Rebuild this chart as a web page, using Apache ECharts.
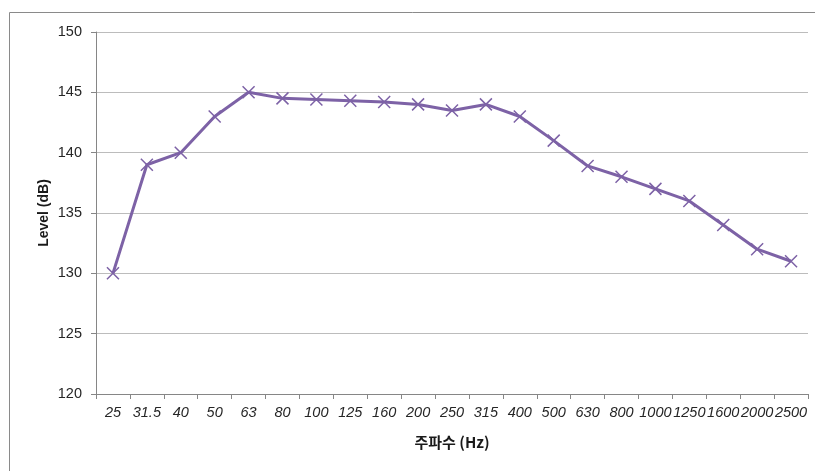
<!DOCTYPE html>
<html>
<head>
<meta charset="utf-8">
<script src="https://cdn.jsdelivr.net/npm/echarts@6/dist/echarts.min.js"></script>
<style>
html,body{margin:0;padding:0;background:#fff;}
#chart{width:815px;height:471px;}
</style>
</head>
<body>
<div id="chart"></div>
<script>
var categories = ['25','31.5','40','50','63','80','100','125','160','200','250','315','400','500','630','800','1000','1250','1600','2000','2500'];
var levels = [130,139,140,143,145,144.5,144.4,144.3,144.2,144,143.5,144,143,141,138.9,138,137,136,134,132,131];
var yTicks = {min:120, max:150, step:5};
var xTitle = '주파수 (Hz)';
var yTitle = 'Level (dB)';

var chart = echarts.init(document.getElementById('chart'), null, {renderer:'canvas'});
chart.setOption({
  animation:false,
  backgroundColor:'#ffffff',
  graphic:[
    {type:'line', shape:{x1:9.5,y1:12.5,x2:815,y2:12.5}, style:{stroke:'#8a8a8a',lineWidth:1}},
    {type:'line', shape:{x1:9.5,y1:12.5,x2:9.5,y2:471}, style:{stroke:'#8a8a8a',lineWidth:1}}
  ],
  grid:{left:96, right:7, top:32, bottom:77, containLabel:false},
  xAxis:{
    type:'category',
    data:categories,
    boundaryGap:true,
    name:xTitle,
    nameLocation:'middle',
    nameGap:41,
    nameTextStyle:{fontFamily:'Noto Sans CJK KR', fontWeight:'bold', fontSize:15, color:'#1a1a1a'},
    axisLine:{lineStyle:{color:'#868686', width:1}},
    axisTick:{show:true, alignWithLabel:false, length:5, lineStyle:{color:'#868686'}},
    axisLabel:{interval:0, fontFamily:'Liberation Sans', fontStyle:'italic', fontSize:14.5, color:'#262626', margin:11},
    splitLine:{show:false}
  },
  yAxis:{
    type:'value',
    min:yTicks.min, max:yTicks.max, interval:yTicks.step,
    name:yTitle,
    nameLocation:'middle',
    nameGap:45,
    nameMoveOverlap:false,
    nameRotate:90,
    nameTextStyle:{fontFamily:'Liberation Sans', fontWeight:'bold', fontSize:14, color:'#1a1a1a'},
    axisLine:{show:true, lineStyle:{color:'#868686', width:1}},
    axisTick:{show:true, length:5, lineStyle:{color:'#868686'}},
    axisLabel:{fontFamily:'Liberation Sans', fontSize:14.5, color:'#262626', margin:14},
    splitLine:{show:true, lineStyle:{color:'#bcbcbc', width:1}}
  },
  series:[{
    type:'line',
    data:levels,
    symbol:'path://M0,0L10,10M10,0L0,10',
    symbolSize:12,
    showAllSymbol:true,
    lineStyle:{color:'#7d62a6', width:3},
    itemStyle:{color:'#7d62a6', borderColor:'#7d62a6', borderWidth:1.5},
    z:3
  }]
});
</script>
</body>
</html>
